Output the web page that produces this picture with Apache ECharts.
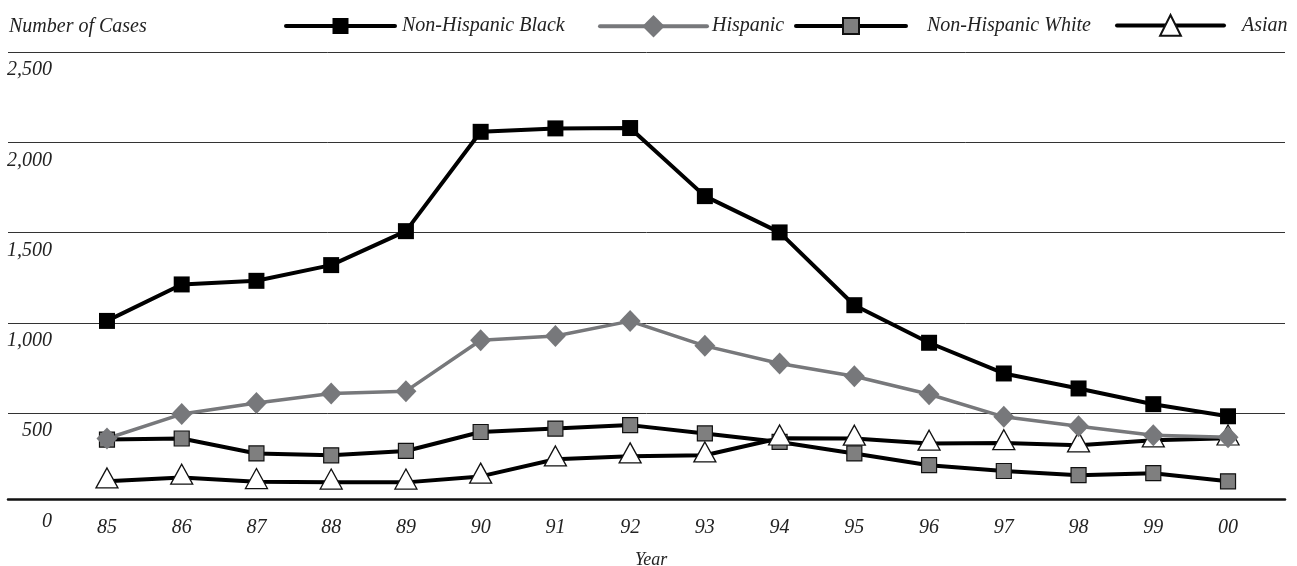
<!DOCTYPE html>
<html>
<head>
<meta charset="utf-8">
<script src="https://cdn.jsdelivr.net/npm/echarts@6/dist/echarts.min.js"></script>
<style>
html,body{margin:0;padding:0;background:#fff;}
#chart{width:1297px;height:566px;}
</style>
</head>
<body>
<div id="chart"></div>
<script>
const years = ['85','86','87','88','89','90','91','92','93','94','95','96','97','98','99','00'];
const yTicks = [0, 500, 1000, 1500, 2000, 2500];
const nonHispanicBlack = [1011, 1213, 1233, 1320, 1508, 2058, 2077, 2079, 1702, 1501, 1098, 890, 720, 637, 550, 483];
const hispanic = [360, 495, 557, 609, 622, 904, 927, 1010, 873, 775, 705, 605, 480, 428, 378, 367];
const nonHispanicWhite = [354, 360, 277, 267, 291, 396, 415, 434, 388, 341, 277, 212, 180, 157, 168, 123];
const asian = [123, 144, 120, 117, 117, 150, 245, 262, 267, 361, 360, 332, 335, 323, 350, 361];

const FONT = 'Liberation Serif';
const txt = {fontFamily: FONT, fontStyle: 'italic', fontSize: 20, color: '#222'};

const chart = echarts.init(document.getElementById('chart'), null, {renderer: 'canvas'});

const gridTop = 52, gridBottom = 62.5;

function makeLegend(name, left, legendTop, width, iconH, padLeft, lineColor) {
  return {
    data: [name], left: left, top: legendTop, padding: 0,
    itemWidth: width, itemHeight: iconH, itemGap: 0,
    lineStyle: {width: 4, color: lineColor, cap: 'round'},
    textStyle: Object.assign({}, txt, {padding: [4, 0, 0, padLeft]}),
    selectedMode: false
  };
}

chart.setOption({
  animation: false,
  backgroundColor: '#fff',
  title: [
    {text: 'Number of Cases', left: 4, top: 12, textStyle: Object.assign({}, txt, {fontWeight: 'normal'})},
    {text: 'Year', left: 630, top: 546, textStyle: Object.assign({}, txt, {fontWeight: 'normal', fontSize: 18})}
  ],
  legend: [
    makeLegend('Non-Hispanic Black', 284, 16, 109, 20, 2, '#000'),
    makeLegend('Hispanic', 598, 15, 107, 28, 0, '#77787b'),
    makeLegend('Non-Hispanic White', 794, 16, 110, 20, 16, '#000'),
    makeLegend('Asian', 1115, 14, 107, 26, 13, '#000')
  ],
  grid: [
    {left: 8, right: 12, top: gridTop, bottom: gridBottom},
    {left: 69.6, right: 31.6, top: gridTop, bottom: gridBottom}
  ],
  xAxis: [
    {gridIndex: 0, type: 'value', min: 0, max: 1, offset: -4.5,
     axisLine: {show: true, lineStyle: {color: '#111', width: 2.5}},
     axisTick: {show: false}, axisLabel: {show: false}, splitLine: {show: false}},
    {gridIndex: 1, type: 'category', data: years, boundaryGap: true,
     axisLine: {show: false}, axisTick: {show: false},
     axisLabel: Object.assign({}, txt, {margin: 14})}
  ],
  yAxis: [
    {gridIndex: 0, type: 'value', min: yTicks[0], max: yTicks[yTicks.length - 1], interval: 500,
     axisLine: {show: false}, axisTick: {show: false},
     splitLine: {show: true, showMinLine: false, lineStyle: {color: '#333', width: 1}},
     axisLabel: Object.assign({}, txt, {
       inside: true, margin: 44, align: 'right', verticalAlign: 'top', padding: [8, 0, 0, 0],
       formatter: v => v.toLocaleString('en-US')
     })},
    {gridIndex: 1, type: 'value', min: yTicks[0], max: yTicks[yTicks.length - 1], interval: 500,
     show: false, splitLine: {show: false}}
  ],
  series: [
    {name: 'Non-Hispanic White', type: 'line', xAxisIndex: 1, yAxisIndex: 1, data: nonHispanicWhite,
     symbol: 'rect', symbolSize: 15,
     lineStyle: {color: '#000', width: 4},
     itemStyle: {color: '#7f7f7f', borderColor: '#111', borderWidth: 1.2}},
    {name: 'Asian', type: 'line', xAxisIndex: 1, yAxisIndex: 1, data: asian,
     symbol: 'triangle', symbolSize: [22, 20], symbolOffset: [0, -3.3],
     lineStyle: {color: '#000', width: 4},
     itemStyle: {color: '#fff', borderColor: '#111', borderWidth: 1.3}},
    {name: 'Hispanic', type: 'line', xAxisIndex: 1, yAxisIndex: 1, data: hispanic,
     symbol: 'diamond', symbolSize: [21, 22],
     lineStyle: {color: '#77787b', width: 3.5},
     itemStyle: {color: '#77787b', borderWidth: 0}},
    {name: 'Non-Hispanic Black', type: 'line', xAxisIndex: 1, yAxisIndex: 1, data: nonHispanicBlack,
     symbol: 'rect', symbolSize: 16,
     lineStyle: {color: '#000', width: 4},
     itemStyle: {color: '#000', borderColor: '#000', borderWidth: 0}}
  ]
});
</script>
</body>
</html>
